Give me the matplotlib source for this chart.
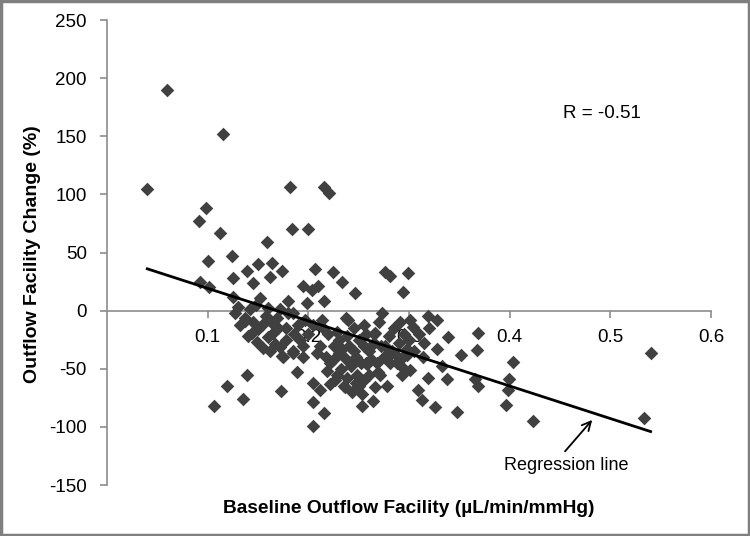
#!/usr/bin/env python3

import matplotlib

matplotlib.use("Agg")
import matplotlib.pyplot as plt
from matplotlib.patches import Rectangle

OUT_PATH = "out.png"

# baseline outflow facility (uL/min/mmHg)
facility = [
    0.060, 0.115, 0.040, 0.182, 0.216, 0.221, 0.098, 0.091, 0.112, 0.184,
    0.200, 0.159, 0.100, 0.124, 0.150, 0.164, 0.174, 0.162, 0.145, 0.139,
    0.125, 0.092, 0.101, 0.207, 0.224, 0.233, 0.246, 0.195, 0.204, 0.210,
    0.216, 0.152, 0.180, 0.199, 0.125, 0.276, 0.281, 0.299, 0.294, 0.127,
    0.137, 0.142, 0.137, 0.144, 0.149, 0.154, 0.165, 0.167, 0.172, 0.162,
    0.174, 0.185, 0.169, 0.180, 0.197, 0.172, 0.185, 0.209, 0.189, 0.139,
    0.119, 0.135, 0.106, 0.173, 0.205, 0.205, 0.216, 0.205, 0.212, 0.236,
    0.253, 0.250, 0.258, 0.264, 0.266, 0.269, 0.150, 0.160, 0.175, 0.214,
    0.237, 0.239, 0.245, 0.255, 0.265, 0.185, 0.230, 0.242, 0.257, 0.273,
    0.301, 0.319, 0.328, 0.339, 0.369, 0.368, 0.352, 0.403, 0.328, 0.314,
    0.333, 0.294, 0.301, 0.293, 0.319, 0.338, 0.366, 0.369, 0.399, 0.398,
    0.396, 0.309, 0.313, 0.326, 0.348, 0.278, 0.288, 0.298, 0.304, 0.266,
    0.278, 0.294, 0.423, 0.533, 0.540, 0.235, 0.220, 0.225, 0.230, 0.235,
    0.240, 0.245, 0.250, 0.255, 0.260, 0.265, 0.270, 0.272, 0.275, 0.280,
    0.283, 0.285, 0.290, 0.295, 0.298, 0.310, 0.315, 0.320, 0.222, 0.228,
    0.232, 0.238, 0.243, 0.248, 0.255, 0.260, 0.222, 0.218, 0.212, 0.215,
    0.200, 0.205, 0.192, 0.195, 0.178, 0.158, 0.132, 0.130, 0.148, 0.160,
    0.225, 0.228, 0.233, 0.238, 0.241, 0.247, 0.252, 0.257, 0.262, 0.268,
    0.271, 0.276, 0.281, 0.287, 0.291, 0.300, 0.305, 0.247, 0.253, 0.226,
    0.219, 0.140, 0.145, 0.155, 0.163, 0.170, 0.178, 0.190, 0.195, 0.186,
]

# outflow facility change (%)
change = [
    190, 152, 105, 106, 106, 101, 88, 77, 67, 70,
    70, 59, 43, 47, 40, 41, 34, 29, 24, 34,
    28, 25, 20, 36, 33, 25, 15, 21, 18, 21,
    8, 11, 8, 7, 12, 33, 30, 32, 16, -2,
    -6, 1, -9, -19, -27, -12, -19, -29, -31, -35,
    -39, -36, -6, -2, -8, 1, -2, -36, -53, -55,
    -65, -76, -82, -69, -79, -99, -88, -62, -68, -66,
    -82, -65, -46, -78, -66, -53, -16, -23, -40, -8,
    -6, -8, -15, -12, -20, -35, -36, -48, -45, -2,
    -8, -5, -8, -23, -19, -34, -38, -44, -33, -40,
    -48, -40, -51, -55, -58, -59, -59, -65, -59, -68,
    -81, -68, -77, -83, -87, -65, -45, -33, -14, -19,
    -40, -49, -95, -92, -36, -65, -20, -30, -25, -40,
    -30, -35, -25, -30, -35, -28, -10, -30, -40, -22,
    -35, -15, -28, -20, -38, -20, -28, -15, -45, -55,
    -50, -58, -70, -55, -60, -55, -63, -40, -30, -15,
    -20, -12, -25, -40, -15, -5, -12, 3, 5, 2,
    -42, -18, -33, -22, -45, -40, -45, -20, -42, -45,
    -55, -30, -45, -38, -10, -25, -35, -62, -72, -60,
    -52, -22, -10, -32, -10, -15, -25, -12, -30, -20,
]

# regression line end points
reg_x = [0.04, 0.54]
reg_y = [36, -104]

X_TICKS = [0.1, 0.2, 0.3, 0.4, 0.5, 0.6]
Y_TICKS = [-150, -100, -50, 0, 50, 100, 150, 200, 250]

plt.rcParams["font.family"] = ["Liberation Sans", "DejaVu Sans"]
plt.rcParams["axes.unicode_minus"] = False

fig = plt.figure(figsize=(7.5, 5.36), dpi=100)
ax = fig.add_axes([0.1427, 0.0951, 0.8053, 0.8675])

ax.scatter(facility, change, marker="D", s=48, color="#404040", linewidths=0, zorder=3)
ax.plot(reg_x, reg_y, color="black", linewidth=2.0, zorder=4)

ax.set_xlim(0, 0.6)
ax.set_ylim(-150, 250)
ax.set_xticks(X_TICKS)
ax.set_xticklabels([f"{v:.1f}" for v in X_TICKS])
ax.set_yticks(Y_TICKS)

for side in ("top", "right"):
    ax.spines[side].set_visible(False)
ax.spines["bottom"].set_position(("data", 0))
for side in ("left", "bottom"):
    ax.spines[side].set_color("#8c8c8c")
    ax.spines[side].set_linewidth(1.2)
ax.tick_params(axis="both", colors="#8c8c8c", labelcolor="black", labelsize=13.5,
               length=5, width=1.2, direction="out")
ax.tick_params(axis="x", pad=8)
ax.tick_params(axis="y", pad=9.5)

fig.text(0.545, 0.052, "Baseline Outflow Facility (µL/min/mmHg)", ha="center", va="center",
         fontsize=13.8, fontweight="bold")
fig.text(0.044, 0.525, "Outflow Facility Change (%)", ha="center", va="center",
         rotation=90, fontsize=14, fontweight="bold")

ax.text(0.453, 170, "R = -0.51", fontsize=13.5, ha="left", va="center")
ax.text(0.456, -133, "Regression line", ha="center", va="center", fontsize=13)
ax.annotate("", xy=(0.482, -94), xytext=(0.455, -121),
            arrowprops=dict(arrowstyle="->", color="black", lw=1.3,
                            shrinkA=0, shrinkB=0, mutation_scale=16))

fig.patches.append(Rectangle((0.0015, 0.002), 0.997, 0.996, transform=fig.transFigure,
                             fill=False, edgecolor="#7f7f7f", linewidth=2.5))

fig.savefig(OUT_PATH, dpi=100)
plt.close(fig)
